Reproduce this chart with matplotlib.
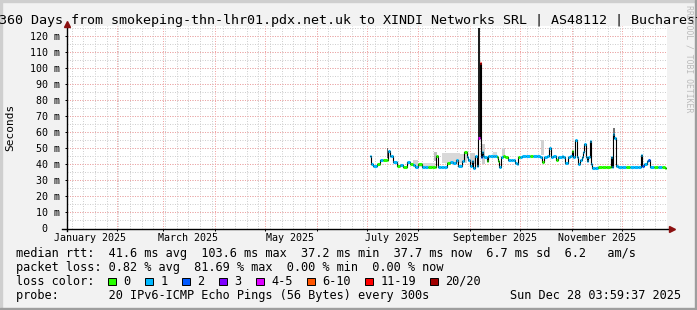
import matplotlib
matplotlib.use('Agg')
import matplotlib.pyplot as plt
from matplotlib.patches import Rectangle
from datetime import datetime, timedelta

plt.rcParams['font.family'] = 'DejaVu Sans Mono'

# time window: 360 days ending at the render time
end_time = datetime(2025, 12, 28, 3, 59, 37)
start_time = end_time - timedelta(days=360)

title = '360 Days from smokeping-thn-lhr01.pdx.net.uk to XINDI Networks SRL | AS48112 | Bucharest'

# median rtt, in days since start_time, value in ms, loss-colour index
rtt_day = [181.8, 182.4, 183.8, 185.8, 187.8, 189.6, 192.0, 192.4, 193.8, 194.4,
           195.8, 197.8, 199.8, 201.8, 203.8, 205.8, 207.8, 208.8, 210.8, 212.8,
           214.8, 216.6, 219.0, 220.8, 221.2, 222.4, 224.4, 226.2, 227.8, 229.8,
           231.8, 233.2, 234.8, 236.8, 238.4, 239.8, 240.4, 241.8, 242.8, 243.8,
           244.8, 245.8, 246.8, 247.8, 248.4, 249.2, 249.8, 250.4, 251.8, 252.8,
           253.8, 255.6, 256.8, 257.8, 258.8, 259.4, 260.4, 261.8, 262.8, 264.6,
           266.4, 267.6, 268.8, 269.8, 270.8, 271.8, 273.0, 275.4, 277.8, 279.8,
           281.8, 283.8, 285.2, 286.4, 287.8, 289.2, 290.4, 291.8, 293.2, 294.8,
           296.8, 297.8, 298.8, 300.4, 301.8, 302.8, 303.8, 304.8, 305.8, 306.8,
           307.8, 308.8, 309.8, 310.4, 311.2, 311.8, 312.8, 313.8, 314.4, 315.0,
           316.8, 318.6, 321.0, 323.4, 325.8, 326.4, 326.8, 327.8, 328.4, 329.2,
           330.6, 333.0, 335.4, 337.8, 340.2, 342.6, 344.4, 345.2, 346.4, 347.8,
           348.8, 349.8, 352.2, 354.6, 357.0, 358.8]
rtt_median = [45.2, 40.4, 38.9, 40.4, 42.5, 42.5, 42.5, 48.3, 45.0, 45.0,
              41.7, 39.0, 39.6, 38.3, 41.7, 40.4, 39.6, 38.3, 40.0, 38.3,
              38.3, 38.3, 38.3, 38.3, 45.0, 38.3, 38.3, 38.3, 40.8, 41.7,
              40.8, 42.5, 38.9, 42.0, 47.5, 44.4, 43.0, 38.9, 42.0, 37.9,
              45.0, 38.9, 56.6, 103.6, 44.4, 47.5, 45.0, 44.4, 42.0, 45.0,
              45.6, 45.6, 45.6, 44.4, 42.0, 38.3, 44.4, 45.0, 44.4, 43.0,
              43.0, 43.0, 40.8, 40.0, 44.4, 44.6, 45.2, 45.2, 45.2, 45.6,
              45.0, 44.4, 41.7, 44.4, 45.0, 50.0, 44.4, 45.0, 43.0, 44.6,
              45.0, 44.4, 40.8, 44.4, 45.0, 48.5, 44.4, 55.6, 44.4, 40.6,
              42.5, 44.4, 48.0, 52.5, 44.4, 42.0, 44.4, 54.6, 40.6, 37.9,
              37.9, 38.3, 38.3, 38.3, 38.3, 44.4, 38.3, 58.8, 56.6, 38.9,
              38.3, 38.3, 38.3, 38.3, 38.3, 38.3, 45.8, 38.9, 40.0, 42.0,
              42.5, 38.3, 38.3, 38.3, 38.3, 37.7]
rtt_loss = [1, 1, 1, 0, 1, 0, 0, 1, 1, 1,
            1, 0, 1, 0, 1, 0, 1, 1, 0, 1,
            1, 0, 0, 0, 0, 1, 1, 1, 0, 1,
            1, 1, 1, 1, 0, 1, 1, 1, 1, 1,
            1, 1, 4, 6, 2, 1, 1, 1, 0, 1,
            1, 1, 1, 0, 0, 1, 1, 0, 0, 1,
            1, 1, 1, 1, 0, 1, 1, 1, 0, 1,
            1, 1, 0, 1, 1, 1, 1, 1, 0, 1,
            1, 1, 1, 1, 1, 0, 1, 1, 1, 1,
            1, 1, 1, 1, 1, 1, 1, 1, 1, 1,
            1, 0, 0, 0, 0, 1, 1, 1, 1, 1,
            1, 1, 0, 1, 1, 1, 1, 2, 1, 1,
            2, 1, 0, 1, 0, 0]

# smoke (spread of the pings): start day, end day, low ms, high ms, grey level
smoke_start = [207.6, 210.8, 220.4, 225.0, 235.6, 241.8, 249.0, 255.6, 260.8, 284.2, 246.6, 327.6, 192.0]
smoke_end = [210.8, 221.0, 222.2, 235.6, 240.0, 244.8, 251.0, 257.8, 262.6, 286.4, 248.0, 328.6, 192.8]
smoke_lo = [38.5, 38.3, 42.0, 41.0, 41.0, 40.0, 40.0, 44.0, 45.5, 46.0, 56.6, 56.0, 44.0]
smoke_hi = [42.5, 41.0, 48.0, 47.0, 46.5, 47.0, 53.0, 48.0, 50.5, 55.6, 125.0, 63.0, 50.0]
smoke_grey = [0.82, 0.85, 0.75, 0.85, 0.85, 0.8, 0.8, 0.85, 0.82, 0.82, 0.12, 0.45, 0.4]

loss_labels = ['0', '1', '2', '3', '4-5', '6-10', '11-19', '20/20']
loss_colors = ['#26ff00', '#00b8ff', '#0059ff', '#7e00ff', '#dd00ff', '#ff5500', '#ff0000', '#a10000']

month_labels = ['January 2025', 'March 2025', 'May 2025', 'July 2025', 'September 2025', 'November 2025']
label_months = [1, 3, 5, 7, 9, 11]

legend_lines = [
    'median rtt:  41.6 ms avg  103.6 ms max  37.2 ms min  37.7 ms now  6.7 ms sd  6.2   am/s',
    'packet loss: 0.82 % avg  81.69 % max  0.00 % min  0.00 % now',
    'loss color:',
    'probe:       20 IPv6-ICMP Echo Pings (56 Bytes) every 300s',
]
stamp = 'Sun Dec 28 03:59:37 2025'

W, H = 697, 310


def fx(x):
    return x / W


def fy(y):
    return 1 - y / H


def days(t):
    return (t - start_time).total_seconds() / 86400.0


fig = plt.figure(figsize=(W / 100, H / 100), dpi=100, facecolor='#f2f2f2')

# 3d frame around the image
fig.patches.append(Rectangle((0, fy(2)), 1, 2 / H, transform=fig.transFigure, color='#cfcfcf', zorder=0))
fig.patches.append(Rectangle((0, 0), 2 / W, 1, transform=fig.transFigure, color='#cfcfcf', zorder=0))
fig.patches.append(Rectangle((0, 0), 1, 2 / H, transform=fig.transFigure, color='#9e9e9e', zorder=0))
fig.patches.append(Rectangle((fx(W - 2), 0), 2 / W, 1, transform=fig.transFigure, color='#9e9e9e', zorder=0))

ax = fig.add_axes([fx(67), fy(228.5), 600 / W, (228.5 - 26) / H])
ax.set_facecolor('white')
ax.set_xlim(0, 360)
ax.set_ylim(0, 126.56)
for s in ax.spines.values():
    s.set_visible(False)

# grid, dotted like rrdtool's
dot = (0, (1, 1.5))
minor_c = '#cfcfcf'
major_c = '#f1a3a3'
month_starts = [days(datetime(2025, m, 1)) for m in range(2, 13)]
week = datetime(2025, 1, 5)
while week < end_time:
    ax.axvline(days(week), color=minor_c, lw=0.72, ls=dot, zorder=0.5)
    week += timedelta(days=7)
for v in range(5, 127, 5):
    ax.axhline(v, color=minor_c, lw=0.72, ls=dot, zorder=0.5)
for d in month_starts:
    ax.axvline(d, color=major_c, lw=0.72, ls=dot, zorder=0.6)
for v in range(10, 121, 10):
    ax.axhline(v, color=major_c, lw=0.72, ls=dot, zorder=0.6)

# smoke
for a, b, lo, hi, g in zip(smoke_start, smoke_end, smoke_lo, smoke_hi, smoke_grey):
    ax.bar(a, hi - lo, bottom=lo, width=b - a, align='edge', color=str(g), lw=0, zorder=1)

# median line: thin black steps, thick loss-coloured flats
ax.step(rtt_day + [rtt_day[-1] + 0.6], rtt_median + [rtt_median[-1]], where='post',
        color='black', lw=0.8, zorder=2)
ends = rtt_day[1:] + [rtt_day[-1] + 0.6]
ax.hlines(rtt_median, rtt_day, ends, colors=[loss_colors[i] for i in rtt_loss], lw=2.2, zorder=3)

# axes lines and arrows
ax.plot([-5 / 600, 1 + 4 / 600], [0, 0], transform=ax.transAxes, color='black', lw=1, clip_on=False, zorder=5)
ax.plot([0, 0], [-2 / 202.5, 1 + 1 / 202.5], transform=ax.transAxes, color='black', lw=1, clip_on=False, zorder=5)
ax.plot(1 + 5 / 600, 0, marker='>', ms=4, color='#8b1010', transform=ax.transAxes, clip_on=False, zorder=6)
ax.plot(0, 1 + 2.5 / 202.5, marker='^', ms=4, color='#8b1010', transform=ax.transAxes, clip_on=False, zorder=6)

# ticks
yt = list(range(0, 121, 10))
ax.set_yticks(yt, ['0  '] + ['%d m' % v for v in yt[1:]])
ax.tick_params(axis='y', length=1.44, width=0.72, pad=3.6, labelsize=7.17)
label_pos = [days(datetime(2025, m, 1)) + 15 for m in label_months]
ax.set_xticks(label_pos, month_labels)
ax.set_xticks(month_starts, minor=True)
ax.tick_params(axis='x', which='major', length=0, pad=3.0, labelsize=7.17)
ax.tick_params(axis='x', which='minor', length=1.44, width=0.72)

# texts
fig.text(fx(351), fy(24), title, ha='center', va='baseline', fontsize=9.6)
fig.text(fx(10), fy(127), 'Seconds', rotation=90, ha='center', va='center', fontsize=8)
fig.text(fx(689), fy(59), 'RRDTOOL / TOBI OETIKER', rotation=270, ha='center', va='center',
         fontsize=5.85, color='#bbbbbb')

for i, line in enumerate(legend_lines):
    fig.text(fx(16), fy(257 + 14 * i), line, ha='left', va='baseline', fontsize=8.52)
fig.text(fx(681), fy(299), stamp, ha='right', va='baseline', fontsize=8.52)

bx = 108.3
for lab, col in zip(loss_labels, loss_colors):
    fig.patches.append(Rectangle((fx(bx), fy(285.2)), 7.5 / W, 7.5 / H, transform=fig.transFigure,
                                 facecolor=col, edgecolor='black', lw=0.7))
    fig.text(fx(bx + 15), fy(285), lab, ha='left', va='baseline', fontsize=8.52)
    bx += 37.0 + (len(lab) - 1) * 7.0

fig.savefig('out.png', dpi=100, facecolor=fig.get_facecolor())
